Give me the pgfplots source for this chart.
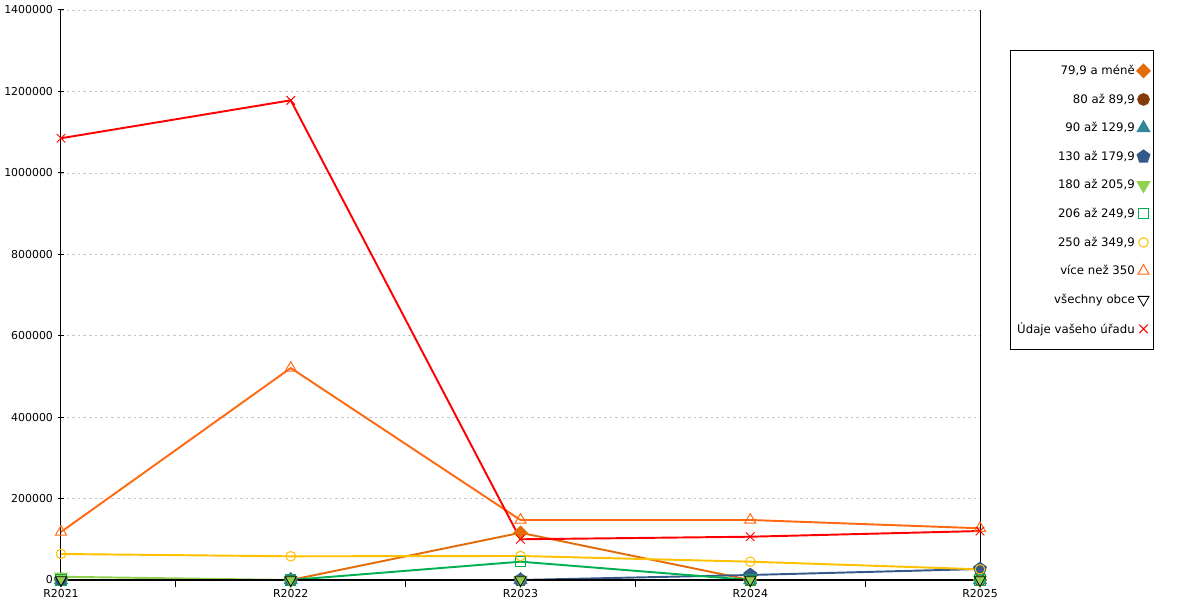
\documentclass[border=0pt]{standalone}
\usepackage{fontspec}
\setmainfont{DejaVu Sans}
\usepackage{pgfplots}
\pgfplotsset{compat=1.18}
\definecolor{cA}{HTML}{E36C0A}
\definecolor{cB}{HTML}{843C0C}
\definecolor{cC}{HTML}{31859C}
\definecolor{cD}{HTML}{35598A}
\definecolor{cE}{HTML}{92D050}
\definecolor{cF}{HTML}{00B050}
\definecolor{cG}{HTML}{FFC000}
\definecolor{cH}{HTML}{FF6A10}
\definecolor{cI}{HTML}{000000}
\definecolor{cJ}{HTML}{FF0000}
\begin{document}
\begin{tikzpicture}
\begin{axis}[
  scale only axis, width=689.25pt, height=427.5pt,
  xmin=0, xmax=4, ymin=0, ymax=1400000,
  axis x line*=bottom, axis y line*=left,
  x axis line style={-, line width=1.7pt},
  y axis line style={-, line width=0.75pt},
  xtick={0.5,1.5,2.5,3.5}, xticklabels={},
  xtick align=outside, major tick length=5pt,
  extra x ticks={0,1,2,3,4},
  extra x tick labels={R2021,R2022,R2023,R2024,R2025},
  extra x tick style={tick style={draw=none}, grid=none},
  xticklabel style={yshift=1.5pt},
  ytick={0,200000,...,1400000},
  ytick align=center,
  scaled y ticks=false,
  yticklabel style={/pgf/number format/fixed, /pgf/number format/1000 sep={}},
  /pgf/number format/assume math mode=true,
  ticklabel style={font=\fontsize{8.2}{9}\selectfont},
  tick style={black, line width=0.75pt},
  ymajorgrids,
  grid style={gray!45, dash pattern=on 2pt off 2.2pt, line width=0.5pt},
  clip=false,
  every axis plot/.append style={line width=1.45pt, mark size=4.3pt, mark options={solid, line width=0.75pt}},
  legend style={at={(1.0327,0.9298)}, anchor=north west, draw=black, line width=0.75pt,
    font=\fontsize{8.8}{10}\selectfont, row sep=8.9pt, inner xsep=3pt, inner ysep=9pt},
  legend cell align=right, legend plot pos=right,
  legend image code/.code={\draw[#1] plot[only marks] coordinates {(0.14cm,0cm)};},
]
\addplot[color=cA, mark=square*, mark size=3.2pt, mark options={fill=cA, rotate=45}] coordinates {(0,0) (1,0) (2,116000) (3,0) (4,0)};
\addlegendentry{79,9 a méně}
\addplot[color=cB, mark=*, mark size=4pt, mark options={fill=cB}] coordinates {(0,0) (1,0) (2,0) (3,0) (4,0)};
\addlegendentry{80 až 89,9}
\addplot[color=cC, mark=triangle*, mark size=4.8pt, mark options={fill=cC}] coordinates {(0,0) (1,0) (2,0) (3,0) (4,0)};
\addlegendentry{90 až 129,9}
\addplot[color=cD, mark=pentagon*, mark size=4.6pt, mark options={fill=cD}] coordinates {(0,0) (1,0) (2,0) (3,12300) (4,27000)};
\addlegendentry{130 až 179,9}
\addplot[color=cE, mark=triangle*, mark size=4.8pt, mark options={fill=cE, rotate=180}] coordinates {(0,8000) (1,0) (2,0) (3,0) (4,0)};
\addlegendentry{180 až 205,9}
\addplot[color=cF, mark=square, mark size=3.9pt] coordinates {(0,0) (1,0) (2,45000) (3,0) (4,0)};
\addlegendentry{206 až 249,9}
\addplot[color=cG, mark=o, mark size=3.6pt] coordinates {(0,63900) (1,58200) (2,59000) (3,45000) (4,26300)};
\addlegendentry{250 až 349,9}
\addplot[color=cH, mark=triangle, mark size=4.8pt] coordinates {(0,118000) (1,520700) (2,147400) (3,147400) (4,127000)};
\addlegendentry{více než 350}
\addplot[color=cI, mark=triangle, mark size=4.8pt, mark options={rotate=180, line width=0.6pt}] coordinates {(0,0) (1,0) (2,0) (3,0) (4,0)};
\addlegendentry{všechny obce}
\addplot[color=cJ, mark=x, mark size=4.5pt] coordinates {(0,1085000) (1,1178200) (2,100000) (3,106300) (4,120300)};
\addlegendentry{Údaje vašeho úřadu}
\draw[black, line width=0.75pt] (rel axis cs:1,0) -- (rel axis cs:1,1);
\coordinate (o) at (rel axis cs:0,0);
\end{axis}
\pgfresetboundingbox
\path[use as bounding box] ([shift={(-45.75pt,-15pt)}]o) rectangle ([shift={(854.25pt,435pt)}]o);
\end{tikzpicture}
\end{document}
